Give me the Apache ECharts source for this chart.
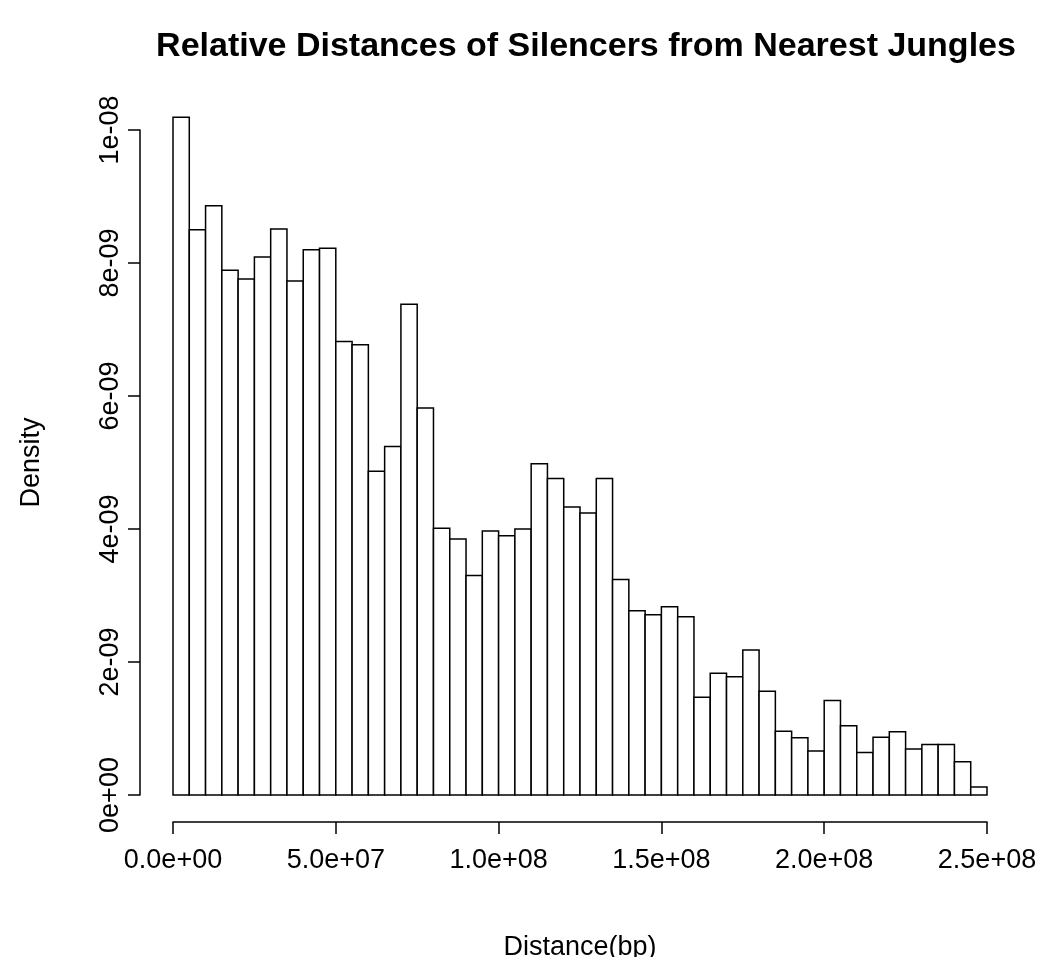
<!DOCTYPE html>
<html>
<head>
<meta charset="utf-8">
<script src="https://cdn.jsdelivr.net/npm/echarts@6/dist/echarts.min.js"></script>
<style>
html,body{margin:0;padding:0;background:#fff;}
#chart{width:1043px;height:957px;}
</style>
</head>
<body>
<div id="chart"></div>
<script>
// Histogram bins: start of first bin and bin width (bp)
var binStart = 0;
var binWidth = 5e6;
// Density per bin
var density = [
  10.19e-9, 8.50e-9, 8.86e-9, 7.89e-9, 7.76e-9, 8.09e-9, 8.51e-9, 7.73e-9, 8.20e-9, 8.22e-9,
  6.82e-9, 6.77e-9, 4.87e-9, 5.24e-9, 7.38e-9, 5.82e-9, 4.01e-9, 3.85e-9, 3.30e-9, 3.97e-9,
  3.90e-9, 4.00e-9, 4.98e-9, 4.76e-9, 4.33e-9, 4.24e-9, 4.76e-9, 3.24e-9, 2.77e-9, 2.71e-9,
  2.83e-9, 2.68e-9, 1.47e-9, 1.83e-9, 1.78e-9, 2.18e-9, 1.56e-9, 0.96e-9, 0.86e-9, 0.66e-9,
  1.42e-9, 1.04e-9, 0.64e-9, 0.87e-9, 0.95e-9, 0.69e-9, 0.76e-9, 0.76e-9, 0.50e-9, 0.12e-9
];
var xTicks = [0, 5e7, 1e8, 1.5e8, 2e8, 2.5e8];
var yTicks = [0, 2e-9, 4e-9, 6e-9, 8e-9, 1e-8];
var titleText = 'Relative Distances of Silencers from Nearest Jungles';
var xName = 'Distance(bp)';
var yName = 'Density';

function rExp(v, digits) {
  var s = Number(v).toExponential(digits);
  var m = s.match(/^(.*)e([+-])(\d+)$/);
  return m[1] + 'e' + m[2] + (m[3].length < 2 ? '0' + m[3] : m[3]);
}

var data = density.map(function (d, i) {
  var a = binStart + i * binWidth;
  return [a, a + binWidth, d];
});

var FONT = '"Liberation Sans", Arial, Helvetica, sans-serif';
var chart = echarts.init(document.getElementById('chart'), null, {renderer: 'canvas'});
chart.setOption({
  backgroundColor: '#ffffff',
  animation: false,
  title: {
    text: titleText,
    left: 581,
    textAlign: 'center',
    top: 25,
    textStyle: {fontFamily: FONT, fontWeight: 'bold', fontSize: 34, color: '#000'}
  },
  grid: {left: 173, right: 56, top: 130, bottom: 162, containLabel: false, outerBoundsMode: 'none'},
  xAxis: {
    type: 'value',
    min: xTicks[0],
    max: xTicks[xTicks.length - 1],
    interval: xTicks[1] - xTicks[0],
    offset: 27,
    name: xName,
    nameLocation: 'middle',
    nameGap: 112,
    nameMoveOverlap: false,
    nameTextStyle: {fontFamily: FONT, fontSize: 27, color: '#000'},
    axisLine: {show: true, onZero: false, lineStyle: {color: '#000', width: 1.5}},
    axisTick: {show: true, length: 12, lineStyle: {color: '#000', width: 1.5}},
    axisLabel: {
      margin: 25, fontFamily: FONT, fontSize: 27, color: '#000',
      formatter: function (v) { return rExp(v, 1); }
    },
    splitLine: {show: false}
  },
  yAxis: {
    type: 'value',
    min: yTicks[0],
    max: yTicks[yTicks.length - 1],
    interval: yTicks[1] - yTicks[0],
    offset: 33,
    name: yName,
    nameLocation: 'middle',
    nameGap: 95,
    nameRotate: 90,
    nameMoveOverlap: false,
    nameTextStyle: {fontFamily: FONT, fontSize: 27, color: '#000'},
    axisLine: {show: true, onZero: false, lineStyle: {color: '#000', width: 1.5}},
    axisTick: {show: true, length: 12, lineStyle: {color: '#000', width: 1.5}},
    axisLabel: {
      rotate: 90, margin: 16, fontFamily: FONT, fontSize: 27, color: '#000',
      formatter: function (v) { return rExp(v, 0); }
    },
    splitLine: {show: false}
  },
  series: [{
    type: 'custom',
    clip: false,
    data: data,
    encode: {x: [0, 1], y: 2},
    renderItem: function (params, api) {
      var p0 = api.coord([api.value(0), 0]);
      var p1 = api.coord([api.value(1), api.value(2)]);
      return {
        type: 'rect',
        shape: {x: p0[0], y: p1[1], width: p1[0] - p0[0], height: p0[1] - p1[1]},
        style: {fill: '#ffffff', stroke: '#000000', lineWidth: 1.5}
      };
    }
  }]
});
</script>
</body>
</html>
